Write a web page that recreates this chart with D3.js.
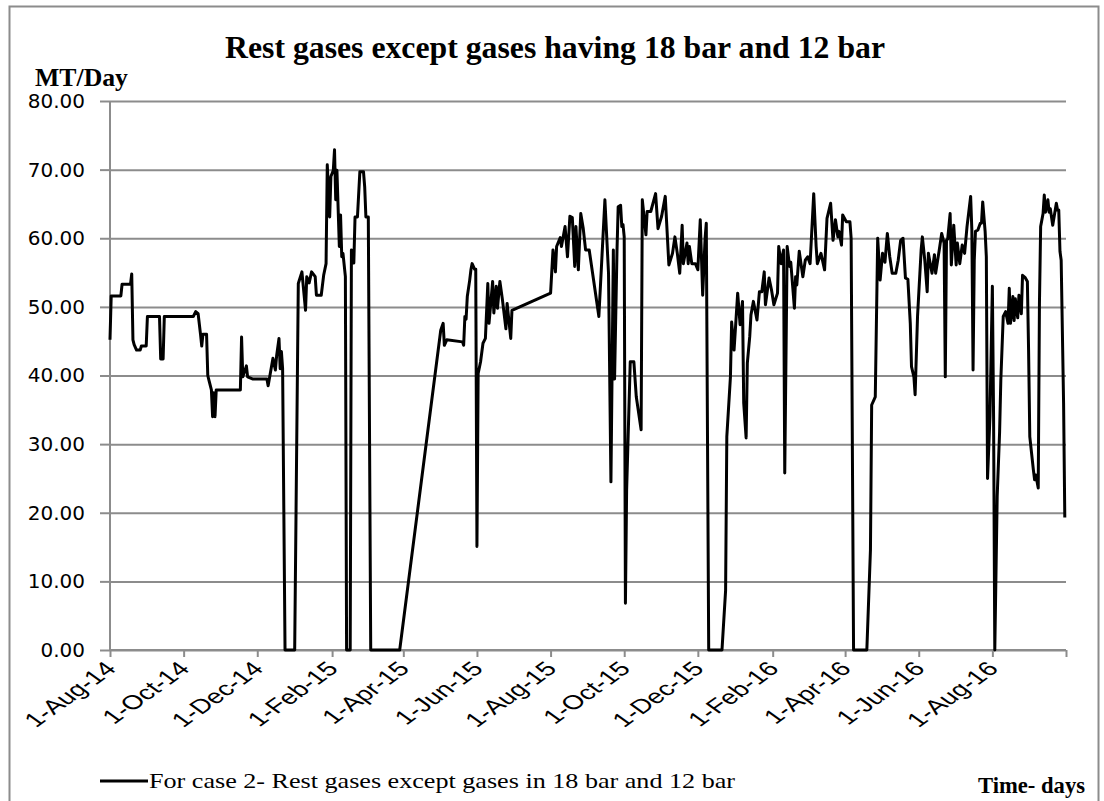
<!DOCTYPE html>
<html>
<head>
<meta charset="utf-8">
<script src="https://cdn.jsdelivr.net/npm/d3@7"></script>
<style>
  html, body { margin: 0; padding: 0; background: #fff; }
  svg { display: block; }
</style>
</head>
<body>
<svg id="chart" width="1104" height="801"></svg>
<script>
// ---------------- DATA ----------------
const startDate = "2014-08-01";
const endDate = "2016-10-01";
// days since 1-Aug-14
const dayOffsets = [
  0,1,9,10,17,18,19,20,22,25,26,30,31,41,42,44,45,69,71,73,75,76,77,80,81,82,84,85,86,87,88,108,109,110,113,114,118,130,131,135,137,138,140,141,142,143,145,153,
  156,159,162,163,165,167,170,171,175,177,179,180,182,183,185,186,187,188,190,191,192,193,195,196,199,200,202,203,205,207,210,211,212,214,216,240,
  274,276,277,279,292,293,294,295,296,298,299,300,302,303,304,305,307,309,311,313,314,317,318,320,321,323,325,328,329,332,333,
  365,367,369,370,373,374,377,379,381,383,385,386,388,390,392,394,397,405,410,413,415,417,418,420,421,423,424,425,426,427,428,431,434,436,440,
  441,444,445,448,452,454,457,460,463,466,468,470,472,474,475,478,479,480,482,485,487,489,491,493,494,496,507,
  510,511,514,515,517,520,522,524,525,527,528,530,531,533,536,538,540,542,543,546,548,550,553,554,556,558,559,561,563,564,567,568,569,571,574,576,578,580,583,585,586,589,592,594,597,599,601,603,604,606,607,610,613,614,616,627,
  630,631,634,636,638,640,642,644,646,648,651,653,655,657,659,661,663,664,666,667,669,672,673,675,677,678,679,681,683,684,687,689,691,692,693,694,696,697,699,701,702,704,706,708,710,713,714,715,716,717,719,721,722,723,725,726,727,729,
  731,732,733,735,737,738,740,742,744,745,746,748,749,750,752,753,755,756,758,760,761,762,765,766,767,769,770,771,773,774,775,777,778,779,781,784,785,786,787,788,790,791
];
// MT/Day
const values = [
  45.2,51.6,51.6,53.3,53.3,54.8,45.2,44.5,43.7,43.7,44.3,44.3,48.6,48.6,42.4,42.4,48.6,48.6,49.3,49,46,44.3,46,46,40,39.3,37.9,34,37.5,34,37.9,37.9,45.6,39.8,41.4,39.8,39.5,39.5,38.5,42.5,40.8,42.8,45.4,41,43.5,41,0,0,
  53.4,55.1,49.5,54.4,53.5,55.1,54.4,51.7,51.7,54.6,56.3,70.7,63.1,69,69.9,72.9,65.6,69.9,58.8,63.4,57.3,57.8,54.4,0,0,58.3,56.4,63.1,63.1,69.7,69.7,67.5,63.1,63.1,0,0,
  46.6,47.6,44.4,45.2,44.9,44.4,48.6,48.2,51.5,53.9,55.4,56.3,55.5,55.5,15.1,40.3,42,44.7,45.4,53.4,47.6,53.7,49.1,53,49.8,53.7,51.2,46.8,50.5,45.4,49.5,
  52,58.3,55.1,58.8,60.1,58.8,61.7,57.3,63.2,63,55.9,61.7,55.4,63.6,61.5,58.3,58.3,48.6,65.6,54.9,24.5,58.3,39.5,58,64.6,64.8,61.7,62,60.2,6.8,23.3,42,42,36.9,32.1,
  65.6,60.5,63.9,63.9,66.5,61.4,63.2,66.1,56.1,57.8,60.2,57.8,54.9,61.9,56.3,59.3,56.3,58.8,56.3,56.3,55.4,62.7,51.7,60,62.2,0,0,
  8.7,31.1,39.8,47.8,43.7,52,47.4,50.8,36,30.9,41.8,45.7,48.8,50.8,48.1,52.2,52.2,55.1,50.3,54.2,52.5,50.3,52,58.8,56.3,58.3,25.8,58.8,55.9,56.5,49.8,54.4,53.2,58.1,54.4,56.8,57.3,56.3,66.5,58.8,56.3,57.8,55.4,62.9,65.1,59.7,62.7,60.2,61,59,63.4,62.4,62.4,60,0,0,
  14.6,35.7,36.9,60,53.9,57.8,56.5,60.7,57.3,54.9,54.9,56.8,59.7,60,54.2,54,47.6,41.3,39.8,37.2,48.6,58.3,60.2,56.8,52.2,57.8,56.8,54.9,57.6,54.9,58.3,60.7,59.3,39.8,59.7,59.9,63.6,56.1,61.9,56.1,59.3,56.3,59,57.8,61.7,66.1,61.2,40.8,56.8,61,61.2,62.2,62.2,65.3,61,57.3,25,34,
  53,34,0,22.4,31.8,39.3,48.6,49.3,47.6,52.7,47.6,51.5,48,51.2,48.4,51.7,49,54.6,54.3,53.7,43.7,31.1,26.2,24.8,25.5,23.6,50.5,61.7,63.6,66.3,63.8,65.6,63.8,64.3,61.9,65.1,64.1,64.1,58.1,56.8,36,19.3
];
const yTicks = [0, 10, 20, 30, 40, 50, 60, 70, 80];
const xTickLabels = ["1-Aug-14","1-Oct-14","1-Dec-14","1-Feb-15","1-Apr-15","1-Jun-15","1-Aug-15","1-Oct-15","1-Dec-15","1-Feb-16","1-Apr-16","1-Jun-16","1-Aug-16",""];
const titleText = "Rest gases except gases having 18 bar and 12 bar";
const yAxisTitle = "MT/Day";
const xAxisTitle = "Time- days";
const legendText = "For case 2- Rest gases except gases in 18 bar and 12 bar";

// ---------------- CHART ----------------
const svg = d3.select("#chart");
const parse = d3.utcParse("%Y-%m-%d");
const t0 = parse(startDate), t1 = parse(endDate);
const data = dayOffsets.map((d, i) => ({ date: d3.utcDay.offset(t0, d), value: values[i] }));

const L = 110, R = 1066, T = 101, B = 650;
const x = d3.scaleUtc().domain([t0, t1]).range([L, R]);
const y = d3.scaleLinear().domain([0, 80]).range([B, T]);
const grey = "#8c8c8c";

// outer frame
svg.append("rect").attr("x", 9.5).attr("y", 6.5).attr("width", 1089).attr("height", 830)
  .attr("fill", "none").attr("stroke", grey).attr("stroke-width", 2);

// gridlines
svg.append("g").attr("transform", `translate(${L},0)`)
  .call(d3.axisLeft(y).tickValues(yTicks).tickSize(-(R - L)).tickFormat(""))
  .call(g => g.select(".domain").remove())
  .call(g => g.selectAll("line").attr("stroke", grey).attr("stroke-width", 2));

// y axis
const yAxis = svg.append("g").attr("transform", `translate(${L},0)`)
  .call(d3.axisLeft(y).tickValues(yTicks).tickSize(10).tickPadding(15).tickFormat(d3.format(".2f")));
yAxis.select(".domain").attr("stroke", grey).attr("stroke-width", 2).attr("d", `M0,${T}V${B}`);
yAxis.selectAll("line").attr("stroke", grey).attr("stroke-width", 2);
yAxis.selectAll("text").attr("font-family", "DejaVu Sans").attr("font-size", 20).attr("fill", "#000");

// x axis
const xTickDates = d3.utcMonth.range(t0, d3.utcDay.offset(t1, 1), 2);
const xAxis = svg.append("g").attr("transform", `translate(0,${B})`)
  .call(d3.axisBottom(x).tickValues(xTickDates).tickSize(7).tickFormat((d, i) => xTickLabels[i] || ""));
xAxis.select(".domain").attr("stroke", grey).attr("stroke-width", 2).attr("d", `M${L},0H${R}`);
xAxis.selectAll("line").attr("stroke", grey).attr("stroke-width", 2);
xAxis.selectAll("text")
  .attr("font-family", "Liberation Sans").attr("font-size", 20).attr("fill", "#000")
  .attr("text-anchor", "end").attr("x", 0).attr("y", 0).attr("dy", 0)
  .attr("transform", "translate(7,20) scale(1.4,1) rotate(-45)");

// line
svg.append("path").datum(data)
  .attr("fill", "none").attr("stroke", "#000").attr("stroke-width", 3)
  .attr("stroke-linejoin", "round")
  .attr("d", d3.line().x(d => x(d.date)).y(d => y(d.value)));

// titles
svg.append("text").attr("x", 555).attr("y", 58).attr("text-anchor", "middle")
  .attr("font-family", "Liberation Serif").attr("font-weight", "bold").attr("font-size", 32)
  .attr("textLength", 660).attr("lengthAdjust", "spacingAndGlyphs").text(titleText);
svg.append("text").attr("x", 35).attr("y", 86)
  .attr("font-family", "Liberation Serif").attr("font-weight", "bold").attr("font-size", 25)
  .attr("textLength", 93).attr("lengthAdjust", "spacingAndGlyphs").text(yAxisTitle);
svg.append("text").attr("x", 978).attr("y", 793)
  .attr("font-family", "Liberation Serif").attr("font-weight", "bold").attr("font-size", 23)
  .attr("textLength", 107).attr("lengthAdjust", "spacingAndGlyphs").text(xAxisTitle);

// legend
svg.append("line").attr("x1", 100).attr("x2", 148).attr("y1", 781).attr("y2", 781)
  .attr("stroke", "#000").attr("stroke-width", 3);
svg.append("text").attr("x", 149).attr("y", 788)
  .attr("font-family", "Liberation Serif").attr("font-size", 22)
  .attr("textLength", 586).attr("lengthAdjust", "spacingAndGlyphs").text(legendText);
</script>
</body>
</html>
